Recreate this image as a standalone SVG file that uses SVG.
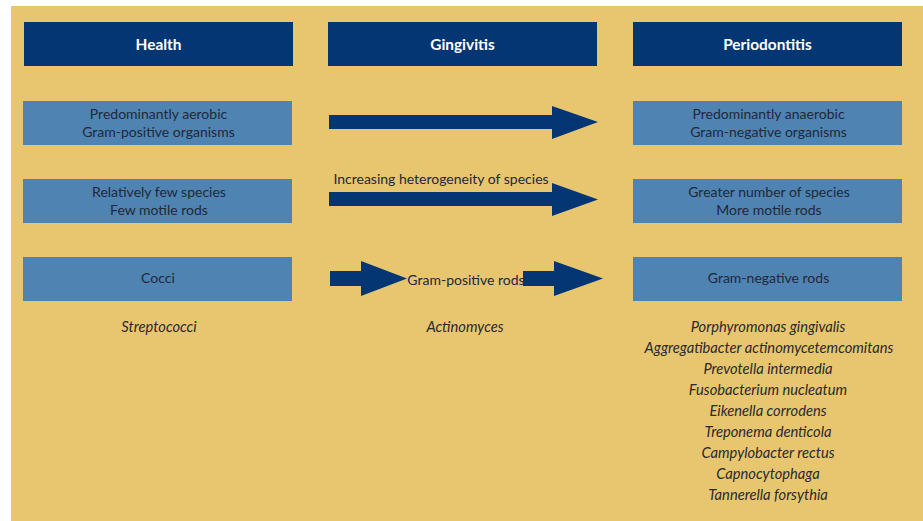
<svg xmlns="http://www.w3.org/2000/svg" width="923" height="521" viewBox="0 0 923 521">
<defs>
<style>
.hdr{fill:#043673}
.box{fill:#4F83B2}
.arr{fill:#043673}
.ht{font-family:Lato,"Open Sans","Liberation Sans",sans-serif;font-size:15.4px;font-weight:bold;fill:#FFFFFF;text-anchor:middle}
.bt{font-family:Lato,"Open Sans","Liberation Sans",sans-serif;font-size:14px;fill:#222838;text-anchor:middle}
.it{font-family:Lato,"Open Sans","Liberation Sans",sans-serif;font-size:14.7px;font-style:italic;fill:#2A2A2A;text-anchor:middle}
</style>
</defs>
<rect width="923" height="521" fill="#FFFFFF"/>
<rect x="11" y="6" width="912" height="515" fill="#E8C670"/>

<g id="health">
<rect class="hdr" x="24" y="22" width="269" height="44"/>
<text class="ht" x="158.5" y="49.5">Health</text>
</g>
<g id="gingivitis">
<rect class="hdr" x="328" y="22" width="269" height="44"/>
<text class="ht" x="462.5" y="49.5">Gingivitis</text>
</g>
<g id="periodontitis">
<rect class="hdr" x="633" y="22" width="269" height="44"/>
<text class="ht" x="767.5" y="49.5">Periodontitis</text>
</g>

<g id="h1">
<rect class="box" x="23" y="101" width="269" height="44"/>
<text class="bt" x="158.5" y="119">Predominantly aerobic</text>
<text class="bt" x="158.5" y="137">Gram-positive organisms</text>
</g>
<g id="p1">
<rect class="box" x="633" y="101" width="269" height="44"/>
<text class="bt" x="768.5" y="119">Predominantly anaerobic</text>
<text class="bt" x="768.5" y="137">Gram-negative organisms</text>
</g>
<g id="h2">
<rect class="box" x="23" y="179" width="269" height="44"/>
<text class="bt" x="159" y="197">Relatively few species</text>
<text class="bt" x="159" y="215">Few motile rods</text>
</g>
<g id="p2">
<rect class="box" x="633" y="179" width="269" height="44"/>
<text class="bt" x="769" y="197">Greater number of species</text>
<text class="bt" x="769" y="215">More motile rods</text>
</g>
<g id="h3">
<rect class="box" x="23" y="257" width="269" height="44"/>
<text class="bt" x="158" y="283">Cocci</text>
</g>
<g id="p3">
<rect class="box" x="633" y="257" width="269" height="44"/>
<text class="bt" x="768.5" y="283">Gram-negative rods</text>
</g>

<g id="connectors">
<polygon class="arr" points="329,115 552,115 552,106 598,122 552,139 552,129 329,129"/>
<polygon class="arr" points="329,192 552,192 552,183 598,199.5 552,216 552,206 329,206"/>
<polygon class="arr" points="330,271 361,271 361,261 407,278.5 361,296 361,286 330,286"/>
<polygon class="arr" points="523,271 554,271 554,261 603,278.5 554,296 554,286 523,286"/>
<text class="bt" x="441" y="184">Increasing heterogeneity of species</text>
<text class="bt" x="466" y="285">Gram-positive rods</text>
</g>

<g id="species">
<text class="it" x="159" y="332">Streptococci</text>
<text class="it" x="465" y="332">Actinomyces</text>
<text class="it" x="768" y="332">Porphyromonas gingivalis</text>
<text class="it" x="769" y="353">Aggregatibacter actinomycetemcomitans</text>
<text class="it" x="768" y="374">Prevotella intermedia</text>
<text class="it" x="768" y="395">Fusobacterium nucleatum</text>
<text class="it" x="768" y="416">Eikenella corrodens</text>
<text class="it" x="768" y="437">Treponema denticola</text>
<text class="it" x="768" y="458">Campylobacter rectus</text>
<text class="it" x="768" y="479">Capnocytophaga</text>
<text class="it" x="768" y="500">Tannerella forsythia</text>
</g>
</svg>
